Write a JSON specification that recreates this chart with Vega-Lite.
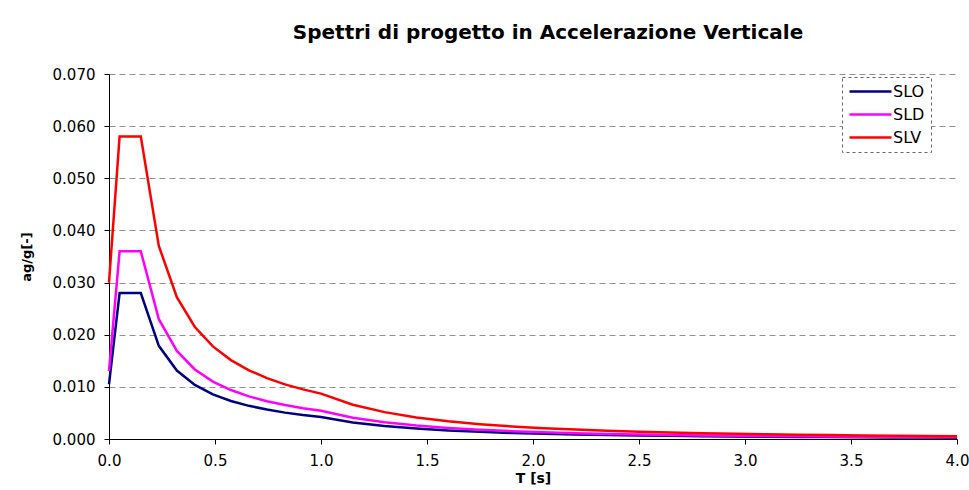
{
  "$schema": "https://vega.github.io/schema/vega-lite/v6.json",
  "autosize": "none",
  "width": 848,
  "height": 365,
  "padding": {"left": 109, "top": 74, "right": 12, "bottom": 51},
  "background": "white",
  "title": {
    "text": "Spettri di progetto in Accelerazione Verticale",
    "font": "DejaVu Sans",
    "fontSize": 20,
    "fontWeight": "bold",
    "color": "black",
    "anchor": "middle",
    "dx": 15,
    "offset": 24
  },
  "data": {
    "values": [
      {"T": 0, "Se": 0.0105, "S": "SLO"},
      {"T": 0.05, "Se": 0.028, "S": "SLO"},
      {"T": 0.15, "Se": 0.028, "S": "SLO"},
      {"T": 0.235, "Se": 0.01787, "S": "SLO"},
      {"T": 0.32, "Se": 0.01313, "S": "SLO"},
      {"T": 0.405, "Se": 0.01037, "S": "SLO"},
      {"T": 0.49, "Se": 0.00857, "S": "SLO"},
      {"T": 0.575, "Se": 0.0073, "S": "SLO"},
      {"T": 0.66, "Se": 0.00636, "S": "SLO"},
      {"T": 0.745, "Se": 0.00564, "S": "SLO"},
      {"T": 0.83, "Se": 0.00506, "S": "SLO"},
      {"T": 0.915, "Se": 0.00459, "S": "SLO"},
      {"T": 1.0, "Se": 0.0042, "S": "SLO"},
      {"T": 1.15, "Se": 0.00318, "S": "SLO"},
      {"T": 1.3, "Se": 0.00249, "S": "SLO"},
      {"T": 1.45, "Se": 0.002, "S": "SLO"},
      {"T": 1.6, "Se": 0.00164, "S": "SLO"},
      {"T": 1.75, "Se": 0.00137, "S": "SLO"},
      {"T": 1.9, "Se": 0.00116, "S": "SLO"},
      {"T": 2.05, "Se": 0.001, "S": "SLO"},
      {"T": 2.2, "Se": 0.00087, "S": "SLO"},
      {"T": 2.35, "Se": 0.00076, "S": "SLO"},
      {"T": 2.5, "Se": 0.00067, "S": "SLO"},
      {"T": 2.65, "Se": 0.0006, "S": "SLO"},
      {"T": 2.8, "Se": 0.00054, "S": "SLO"},
      {"T": 2.95, "Se": 0.00048, "S": "SLO"},
      {"T": 3.1, "Se": 0.00044, "S": "SLO"},
      {"T": 3.25, "Se": 0.0004, "S": "SLO"},
      {"T": 3.4, "Se": 0.00036, "S": "SLO"},
      {"T": 3.55, "Se": 0.00033, "S": "SLO"},
      {"T": 3.7, "Se": 0.00031, "S": "SLO"},
      {"T": 3.85, "Se": 0.00028, "S": "SLO"},
      {"T": 4.0, "Se": 0.00026, "S": "SLO"},
      {"T": 0, "Se": 0.013, "S": "SLD"},
      {"T": 0.05, "Se": 0.036, "S": "SLD"},
      {"T": 0.15, "Se": 0.036, "S": "SLD"},
      {"T": 0.235, "Se": 0.02298, "S": "SLD"},
      {"T": 0.32, "Se": 0.01688, "S": "SLD"},
      {"T": 0.405, "Se": 0.01333, "S": "SLD"},
      {"T": 0.49, "Se": 0.01102, "S": "SLD"},
      {"T": 0.575, "Se": 0.00939, "S": "SLD"},
      {"T": 0.66, "Se": 0.00818, "S": "SLD"},
      {"T": 0.745, "Se": 0.00725, "S": "SLD"},
      {"T": 0.83, "Se": 0.00651, "S": "SLD"},
      {"T": 0.915, "Se": 0.0059, "S": "SLD"},
      {"T": 1.0, "Se": 0.0054, "S": "SLD"},
      {"T": 1.15, "Se": 0.00408, "S": "SLD"},
      {"T": 1.3, "Se": 0.0032, "S": "SLD"},
      {"T": 1.45, "Se": 0.00257, "S": "SLD"},
      {"T": 1.6, "Se": 0.00211, "S": "SLD"},
      {"T": 1.75, "Se": 0.00176, "S": "SLD"},
      {"T": 1.9, "Se": 0.0015, "S": "SLD"},
      {"T": 2.05, "Se": 0.00128, "S": "SLD"},
      {"T": 2.2, "Se": 0.00112, "S": "SLD"},
      {"T": 2.35, "Se": 0.00098, "S": "SLD"},
      {"T": 2.5, "Se": 0.00086, "S": "SLD"},
      {"T": 2.65, "Se": 0.00077, "S": "SLD"},
      {"T": 2.8, "Se": 0.00069, "S": "SLD"},
      {"T": 2.95, "Se": 0.00062, "S": "SLD"},
      {"T": 3.1, "Se": 0.00056, "S": "SLD"},
      {"T": 3.25, "Se": 0.00051, "S": "SLD"},
      {"T": 3.4, "Se": 0.00047, "S": "SLD"},
      {"T": 3.55, "Se": 0.00043, "S": "SLD"},
      {"T": 3.7, "Se": 0.00039, "S": "SLD"},
      {"T": 3.85, "Se": 0.00036, "S": "SLD"},
      {"T": 4.0, "Se": 0.00034, "S": "SLD"},
      {"T": 0, "Se": 0.030, "S": "SLV"},
      {"T": 0.05, "Se": 0.058, "S": "SLV"},
      {"T": 0.15, "Se": 0.058, "S": "SLV"},
      {"T": 0.235, "Se": 0.03702, "S": "SLV"},
      {"T": 0.32, "Se": 0.02719, "S": "SLV"},
      {"T": 0.405, "Se": 0.02148, "S": "SLV"},
      {"T": 0.49, "Se": 0.01776, "S": "SLV"},
      {"T": 0.575, "Se": 0.01513, "S": "SLV"},
      {"T": 0.66, "Se": 0.01318, "S": "SLV"},
      {"T": 0.745, "Se": 0.01168, "S": "SLV"},
      {"T": 0.83, "Se": 0.01048, "S": "SLV"},
      {"T": 0.915, "Se": 0.00951, "S": "SLV"},
      {"T": 1.0, "Se": 0.0087, "S": "SLV"},
      {"T": 1.15, "Se": 0.00658, "S": "SLV"},
      {"T": 1.3, "Se": 0.00515, "S": "SLV"},
      {"T": 1.45, "Se": 0.00414, "S": "SLV"},
      {"T": 1.6, "Se": 0.0034, "S": "SLV"},
      {"T": 1.75, "Se": 0.00284, "S": "SLV"},
      {"T": 1.9, "Se": 0.00241, "S": "SLV"},
      {"T": 2.05, "Se": 0.00207, "S": "SLV"},
      {"T": 2.2, "Se": 0.0018, "S": "SLV"},
      {"T": 2.35, "Se": 0.00158, "S": "SLV"},
      {"T": 2.5, "Se": 0.00139, "S": "SLV"},
      {"T": 2.65, "Se": 0.00124, "S": "SLV"},
      {"T": 2.8, "Se": 0.00111, "S": "SLV"},
      {"T": 2.95, "Se": 0.001, "S": "SLV"},
      {"T": 3.1, "Se": 0.00091, "S": "SLV"},
      {"T": 3.25, "Se": 0.00082, "S": "SLV"},
      {"T": 3.4, "Se": 0.00075, "S": "SLV"},
      {"T": 3.55, "Se": 0.00069, "S": "SLV"},
      {"T": 3.7, "Se": 0.00064, "S": "SLV"},
      {"T": 3.85, "Se": 0.00059, "S": "SLV"},
      {"T": 4.0, "Se": 0.00054, "S": "SLV"}
    ]
  },
  "mark": {"type": "line", "strokeWidth": 2.5, "clip": false},
  "encoding": {
    "x": {
      "field": "T",
      "type": "quantitative",
      "scale": {"domain": [0, 4], "nice": false},
      "axis": {
        "title": "T [s]",
        "values": [0, 0.5, 1, 1.5, 2, 2.5, 3, 3.5, 4],
        "format": ".1f",
        "grid": false,
        "labelFlush": false,
        "domainColor": "black",
        "tickColor": "black",
        "tickSize": 5,
        "labelFontSize": 15,
        "labelPadding": 9,
        "titleFontSize": 14,
        "titlePadding": 3
      }
    },
    "y": {
      "field": "Se",
      "type": "quantitative",
      "scale": {"domain": [0, 0.07], "nice": false},
      "axis": {
        "title": "ag/g[-]",
        "values": [0, 0.01, 0.02, 0.03, 0.04, 0.05, 0.06, 0.07],
        "format": ".3f",
        "grid": true,
        "gridColor": "#909090",
        "gridDash": [6, 4],
        "gridWidth": 1,
        "domainColor": "black",
        "tickColor": "black",
        "tickSize": 5,
        "labelFontSize": 15,
        "labelPadding": 9,
        "titleFontSize": 13,
        "titlePadding": 19
      }
    },
    "color": {
      "field": "S",
      "type": "nominal",
      "scale": {"domain": ["SLO", "SLD", "SLV"], "range": ["#000080", "#FF00FF", "#FF0000"]},
      "legend": {
        "title": null,
        "orient": "none",
        "legendX": 733,
        "legendY": 3,
        "symbolType": "M-1,0H5",
        "symbolSize": 196,
        "symbolStrokeWidth": 2.5,
        "labelFontSize": 16,
        "labelOffset": 28,
        "rowPadding": 6,
        "padding": 6,
        "strokeColor": "#666666",
        "fillColor": "white",
        "labelExpr": "datum.label + '\u00a0\u00a0\u00a0'",
        "encode": {"legend": {"update": {"strokeDash": {"value": [3, 3]}}}}
      }
    }
  },
  "config": {
    "font": "DejaVu Sans",
    "view": {"stroke": null},
    "axis": {
      "labelColor": "black",
      "titleColor": "black",
      "labelFont": "DejaVu Sans",
      "titleFont": "DejaVu Sans",
      "titleFontWeight": "bold"
    },
    "legend": {"labelColor": "black", "labelFont": "DejaVu Sans"}
  }
}
